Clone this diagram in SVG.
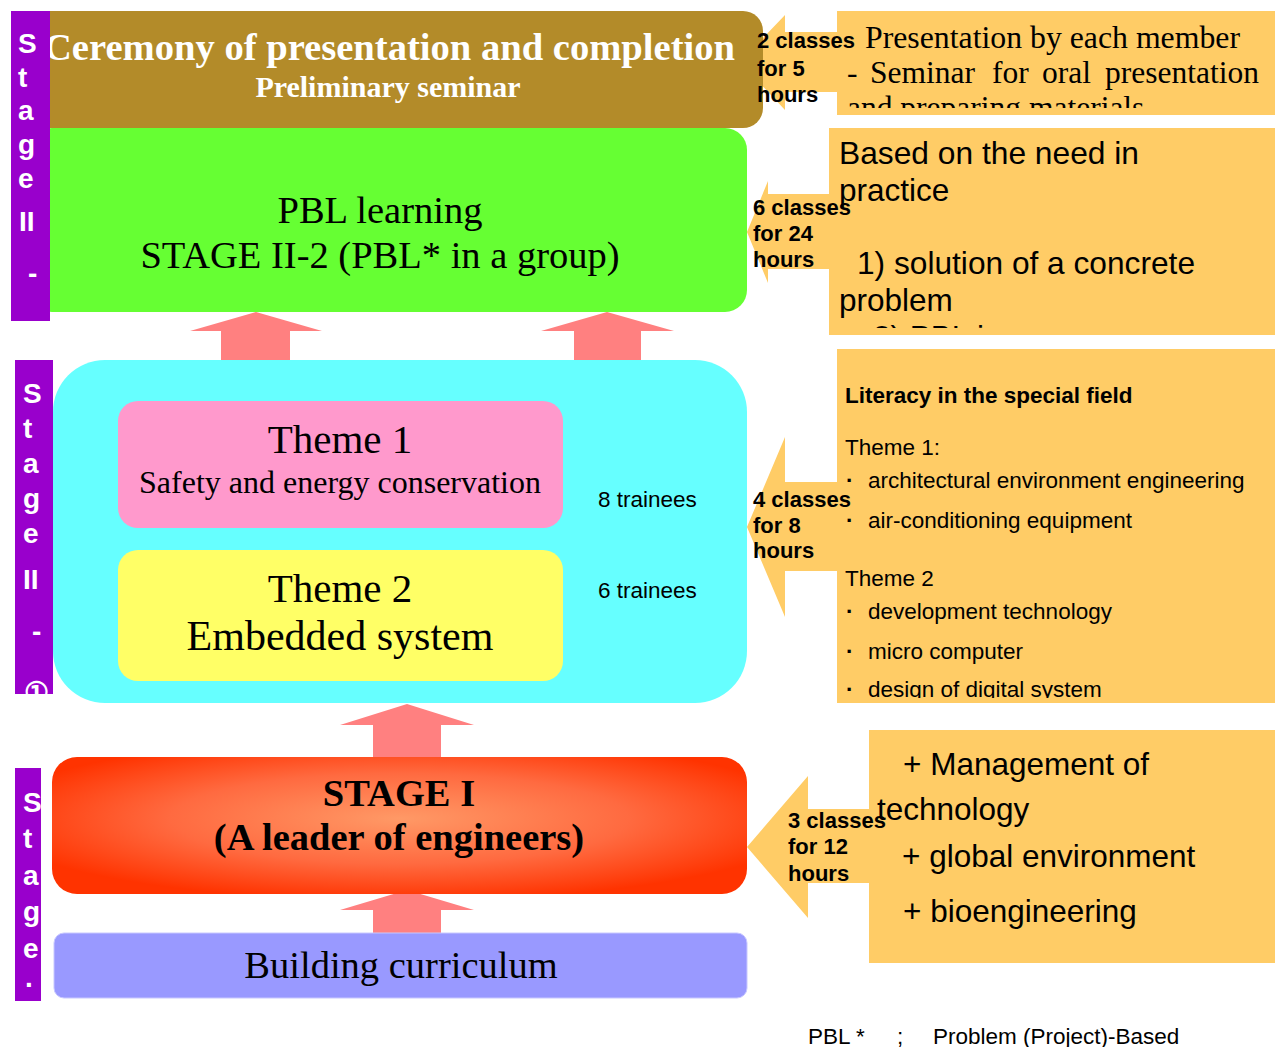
<svg xmlns="http://www.w3.org/2000/svg" width="1280" height="1047" viewBox="0 0 1280 1047">
<style>
.serif{font-family:"Liberation Serif","Times New Roman",serif}
.sans{font-family:"Liberation Sans",Arial,sans-serif}
.bar{fill:#9900CC}
.barT{font-family:"Liberation Sans",Arial,sans-serif;font-weight:bold;font-size:28px;fill:#FFFFFF}
.up{fill:#FF8080}
.left{fill:#FFCC66}
.note{fill:#FFCC66}
.lbl{font-family:"Liberation Sans",Arial,sans-serif;font-weight:bold;font-size:22px;fill:#000}
.small{font-family:"Liberation Sans",Arial,sans-serif;font-size:22.5px;fill:#000}
.big{font-family:"Liberation Sans",Arial,sans-serif;font-size:31.5px;fill:#000}
.tm{font-family:"Liberation Serif","Times New Roman",serif;font-size:31.5px;fill:#000}
</style>
<defs>
<radialGradient id="redG" cx="50%" cy="45%" r="60%">
<stop offset="0" stop-color="#FF9966"/>
<stop offset="0.55" stop-color="#FF6A40"/>
<stop offset="1" stop-color="#FF3300"/>
</radialGradient>
<clipPath id="c1"><rect x="837" y="11" width="438" height="97"/></clipPath>
<clipPath id="c2"><rect x="829" y="128" width="446" height="200"/></clipPath>
<clipPath id="c3"><rect x="837" y="349" width="438" height="349"/></clipPath>
<clipPath id="cb2"><rect x="15" y="360" width="38" height="334"/></clipPath>
</defs>
<rect width="1280" height="1047" fill="#FFFFFF"/>

<g id="connectors">
<polygon class="up" points="256,312 322,331 290,331 290,362 221,362 221,331 190,331"/>
<polygon class="up" points="607,312 674,331 641,331 641,362 574,362 574,331 541,331"/>
<polygon class="up" points="407,704 474,725 441,725 441,759 373,759 373,725 340,725"/>
<polygon class="up" points="407,890 474,910 441,910 441,935 373,935 373,910 340,910"/>
<polygon class="left" points="740,62 785,15 785,32 840,32 840,92 785,92 785,110"/>
<polygon class="left" points="747,232 768,181 768,194 832,194 832,269 768,269 768,283"/>
<polygon class="left" points="747,527 785,437 785,482 840,482 840,571 785,571 785,617"/>
<polygon class="left" points="747,847 808,776 808,809 872,809 872,883 808,883 808,918"/>
</g>

<g id="ceremony">
<rect x="30" y="11" width="733" height="117" rx="20" fill="#B38B29"/>
<text class="serif" x="44" y="60" font-size="38.5" font-weight="bold" fill="#FFFFFF" textLength="691" lengthAdjust="spacingAndGlyphs">Ceremony of presentation and completion</text>
<text class="serif" x="388" y="97" font-size="30" font-weight="bold" fill="#FFFFFF" text-anchor="middle">Preliminary seminar</text>
</g>

<g id="pbl">
<rect x="30" y="128" width="717" height="184" rx="22" fill="#66FF33"/>
<text class="serif" x="380" y="223" font-size="38.5" text-anchor="middle">PBL learning</text>
<text class="serif" x="380" y="268" font-size="38.5" text-anchor="middle">STAGE II-2 (PBL* in a group)</text>
</g>

<g id="stage2-1">
<rect x="53" y="360" width="694" height="343" rx="52" fill="#66FFFF"/>
<text class="small" x="598" y="507">8 trainees</text>
<text class="small" x="598" y="598">6 trainees</text>
</g>

<g id="theme1">
<rect x="118" y="401" width="445" height="127" rx="20" fill="#FF99CC"/>
<text class="serif" x="340" y="453" font-size="41" text-anchor="middle">Theme 1</text>
<text class="serif" x="340" y="493" font-size="32" text-anchor="middle">Safety and energy conservation</text>
</g>

<g id="theme2">
<rect x="118" y="550" width="445" height="131" rx="20" fill="#FFFF66"/>
<text class="serif" x="340" y="602" font-size="41" text-anchor="middle">Theme 2</text>
<text class="serif" x="340" y="650" font-size="42" text-anchor="middle">Embedded system</text>
</g>

<g id="stage1">
<rect x="52" y="757" width="695" height="137" rx="25" fill="url(#redG)"/>
<text class="serif" x="399" y="806" font-size="38.5" font-weight="bold" text-anchor="middle">STAGE I</text>
<text class="serif" x="399" y="850" font-size="38.5" font-weight="bold" text-anchor="middle">(A leader of engineers)</text>
</g>

<g id="curriculum">
<rect x="54" y="933" width="693" height="65" rx="10" fill="#9999FF" stroke="#C8C8FF" stroke-width="1"/>
<text class="serif" x="401" y="978" font-size="38.5" text-anchor="middle">Building curriculum</text>
</g>

<g id="bar-stage2-top">
<rect class="bar" x="11" y="11" width="39" height="310"/>
<text class="barT" x="18" y="53">S</text>
<text class="barT" x="18" y="87">t</text>
<text class="barT" x="18" y="120">a</text>
<text class="barT" x="18" y="154">g</text>
<text class="barT" x="18" y="188">e</text>
<text class="barT" x="19" y="231">II</text>
<text class="barT" x="28" y="283">-</text>
</g>

<g id="bar-stage2-mid">
<rect class="bar" x="15" y="360" width="38" height="334"/>
<g clip-path="url(#cb2)">
<text class="barT" x="23" y="403">S</text>
<text class="barT" x="23" y="438">t</text>
<text class="barT" x="23" y="473">a</text>
<text class="barT" x="23" y="508">g</text>
<text class="barT" x="23" y="543">e</text>
<text class="barT" x="23" y="589">II</text>
<text class="barT" x="32" y="641">-</text>
<text class="barT" x="24" y="702" font-weight="normal" font-size="26">①</text>
</g>
</g>

<g id="bar-stage1">
<rect class="bar" x="15" y="768" width="26" height="233"/>
<text class="barT" x="23" y="812">S</text>
<text class="barT" x="23" y="848">t</text>
<text class="barT" x="23" y="885">a</text>
<text class="barT" x="23" y="921">g</text>
<text class="barT" x="23" y="958">e</text>
<text class="barT" x="25" y="987">.</text>
</g>

<g id="note-ceremony">
<rect class="note" x="837" y="11" width="438" height="104"/>
<g clip-path="url(#c1)">
<text class="tm" x="865" y="48" textLength="375" lengthAdjust="spacingAndGlyphs">Presentation by each member</text>
<text class="tm" x="847" y="83">-</text>
<text class="tm" x="870" y="83">Seminar</text>
<text class="tm" x="992" y="83">for</text>
<text class="tm" x="1042" y="83">oral</text>
<text class="tm" x="1105" y="83">presentation</text>
<text class="tm" x="847" y="118">and preparing materials</text>
</g>
<text class="lbl" x="757" y="48">2 classes</text>
<text class="lbl" x="757" y="76">for 5</text>
<text class="lbl" x="757" y="102">hours</text>
</g>

<g id="note-pbl">
<rect class="note" x="829" y="128" width="446" height="207"/>
<g clip-path="url(#c2)">
<text class="big" x="839" y="164" textLength="300" lengthAdjust="spacingAndGlyphs">Based on the need in</text>
<text class="big" x="839" y="201">practice</text>
<text class="big" x="857" y="274" textLength="338" lengthAdjust="spacingAndGlyphs">1) solution of a concrete</text>
<text class="big" x="839" y="311">problem</text>
<text class="big" x="873" y="348">2) PBL in a group</text>
</g>
<text class="lbl" x="753" y="215">6 classes</text>
<text class="lbl" x="753" y="241">for 24</text>
<text class="lbl" x="753" y="267">hours</text>
</g>

<g id="note-literacy">
<rect class="note" x="837" y="349" width="438" height="354"/>
<g clip-path="url(#c3)">
<text class="small" x="845" y="403" font-weight="bold">Literacy in the special field</text>
<text class="small" x="845" y="455">Theme 1:</text>
<text class="small" x="846" y="488" font-weight="bold">·</text>
<text class="small" x="868" y="488">architectural environment engineering</text>
<text class="small" x="846" y="528" font-weight="bold">·</text>
<text class="small" x="868" y="528">air-conditioning equipment</text>
<text class="small" x="845" y="586">Theme 2</text>
<text class="small" x="846" y="619" font-weight="bold">·</text>
<text class="small" x="868" y="619">development technology</text>
<text class="small" x="846" y="659" font-weight="bold">·</text>
<text class="small" x="868" y="659">micro computer</text>
<text class="small" x="846" y="697" font-weight="bold">·</text>
<text class="small" x="868" y="697">design of digital system</text>
</g>
<text class="lbl" x="753" y="507">4 classes</text>
<text class="lbl" x="753" y="533">for 8</text>
<text class="lbl" x="753" y="558">hours</text>
</g>

<g id="note-stage1">
<rect class="note" x="869" y="730" width="406" height="233"/>
<text class="big" x="903" y="775">+ Management of</text>
<text class="big" x="877" y="820">technology</text>
<text class="big" x="902" y="867">+ global environment</text>
<text class="big" x="903" y="922">+ bioengineering</text>
<text class="lbl" x="788" y="828">3 classes</text>
<text class="lbl" x="788" y="854">for 12</text>
<text class="lbl" x="788" y="881">hours</text>
</g>

<g id="footnote">
<text class="small" x="808" y="1044">PBL *</text>
<text class="small" x="897" y="1044">;</text>
<text class="small" x="933" y="1044">Problem (Project)-Based</text>
</g>
</svg>
